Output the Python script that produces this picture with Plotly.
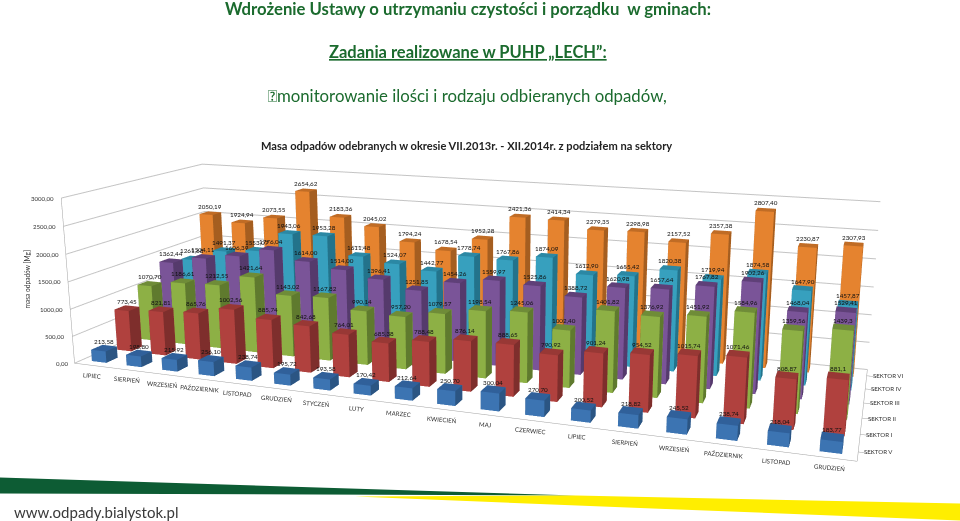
import plotly.graph_objects as go

months = ["LIPIEC", "SIERPIEŃ", "WRZESIEŃ", "PAŹDZIERNIK", "LISTOPAD", "GRUDZIEŃ", "STYCZEŃ", "LUTY", "MARZEC",
          "KWIECIEŃ", "MAJ", "CZERWIEC", "LIPIEC", "SIERPIEŃ", "WRZESIEŃ", "PAŹDZIERNIK", "LISTOPAD", "GRUDZIEŃ"]
sectors = ["SEKTOR V", "SEKTOR I", "SEKTOR II", "SEKTOR III", "SEKTOR IV", "SEKTOR VI"]
z_ticks = [0, 500, 1000, 1500, 2000, 2500, 3000]
sektor_v = [213.58, 198.80, 215.92, 256.10, 238.74, 195.72, 193.58, 170.42, 212.64, 250.70, 300.04, 270.70, 200.52, 218.82, 245.52, 238.74, 218.04, 183.77]
sektor_i = [773.45, 821.81, 865.76, 1002.56, 885.74, 842.68, 764.01, 685.38, 788.48, 876.14, 888.65, 790.92, 901.24, 954.52, 1015.74, 1071.46, 808.87, 881.1]
sektor_ii = [1070.70, 1186.61, 1212.55, 1421.64, 1143.02, 1167.82, 990.14, 957.20, 1079.57, 1198.54, 1245.06, 1002.40, 1401.82, 1376.92, 1451.92, 1584.96, 1359.56, 1439.3]
sektor_iii = [1362.44, 1504.11, 1606.39, 1776.04, 1614.00, 1514.00, 1396.41, 1251.85, 1454.26, 1559.97, 1525.86, 1388.72, 1620.98, 1657.64, 1767.82, 1902.26, 1468.04, 1529.41]
sektor_iv = [1261.68, 1491.37, 1553.07, 1943.06, 1953.28, 1611.48, 1524.07, 1442.77, 1778.74, 1767.86, 1874.09, 1612.90, 1655.42, 1820.38, 1719.94, 1874.58, 1647.90, 1457.87]
sektor_vi = [2050.19, 1924.94, 2073.55, 2654.62, 2183.36, 2045.02, 1794.24, 1678.54, 1952.28, 2421.36, 2414.34, 2279.35, 2298.98, 2157.52, 2357.38, 2807.40, 2230.87, 2307.93]

series = [sektor_v, sektor_i, sektor_ii, sektor_iii, sektor_iv, sektor_vi]
# front, side, top
colors = [("#3c74b2", "#2b5583", "#30609a"), ("#b0413e", "#7e2e2c", "#983835"), ("#8db045", "#5f7a2e", "#6f8c38"),
          ("#7a5498", "#553a6c", "#5f4078"), ("#37a0be", "#23738b", "#2b88a4"), ("#e5832f", "#a55e20", "#c06c25")]

# gl3d has a fixed 45 degree fov, so the long lens of the original needs a taller plot than the window
plot_h = 968
top_off = (plot_h - 521) / 2

fig = go.Figure()
hw, hd = 0.21, 0.22
for j, (vals, col) in enumerate(zip(series, colors)):
    xs, ys, zs, ii, jj, kk, fc = [], [], [], [], [], [], []
    for i, v in enumerate(vals):
        b = len(xs)
        xs += [i - hw, i + hw, i + hw, i - hw] * 2
        ys += [j - hd, j - hd, j + hd, j + hd] * 2
        zs += [0, 0, 0, 0, v, v, v, v]
        # front, right, left, back, top
        quads = [(0, 1, 5, 4, 0), (1, 2, 6, 5, 1), (3, 0, 4, 7, 1), (2, 3, 7, 6, 0), (4, 5, 6, 7, 2)]
        for q0, q1, q2, q3, shade in quads:
            ii += [b + q0, b + q0]
            jj += [b + q1, b + q2]
            kk += [b + q2, b + q3]
            fc += [col[shade], col[shade]]
    fig.add_trace(go.Mesh3d(x=xs, y=ys, z=zs, i=ii, j=jj, k=kk, facecolor=fc, flatshading=True, name=sectors[j],
                            hoverinfo="skip", lighting=dict(ambient=1, diffuse=0, specular=0, fresnel=0, roughness=1)))

label_font = dict(family="Lato", size=6.3, color="#111111")
axis_font = dict(family="Lato", size=6.1, color="#333333")
labels = []
for j, vals in enumerate(series):
    for i, v in enumerate(vals):
        txt = "881,1" if v == 881.1 else "1439,3" if v == 1439.3 else f"{v:.2f}".replace(".", ",")
        labels.append(dict(x=i, y=j, z=v, text=txt, showarrow=False, yshift=7, font=label_font))
for i, m in enumerate(months):
    labels.append(dict(x=i, y=-0.5, z=0, text=m, showarrow=False, yshift=-10, textangle=5, font=axis_font))
for j, s in enumerate(sectors):
    labels.append(dict(x=17.5, y=j, z=0, text=s, showarrow=False, xanchor="left", xshift=4, font=axis_font))
for t in z_ticks:
    labels.append(dict(x=-0.5, y=-0.5, z=t, text=f"{t:.2f}".replace(".", ","), showarrow=False, xanchor="right", xshift=-5,
                       font=axis_font))

fig.update_layout(
    width=960, height=plot_h, margin=dict(l=0, r=0, t=0, b=0), showlegend=False, paper_bgcolor="white",
    scene=dict(
        domain=dict(x=[0, 1], y=[0, 1]),
        aspectmode="manual", aspectratio=dict(x=2, y=0.6583, z=0.4479),
        camera=dict(eye=dict(x=1.0292, y=-2.7772, z=0.7388), center=dict(x=0.035, y=0, z=0.0655), up=dict(x=0, y=0, z=1),
                    projection=dict(type="perspective")),
        xaxis=dict(range=[-0.5, 17.5], tickvals=list(range(18)), showticklabels=False, showgrid=False, showbackground=False,
                   zeroline=False, showline=True, linecolor="#a0a0a0", title="", ticks=""),
        yaxis=dict(range=[-0.5, 5.5], tickvals=list(range(6)), showticklabels=False, showgrid=False, showbackground=False,
                   zeroline=False, showline=True, linecolor="#a0a0a0", title="", ticks="outside", ticklen=3, tickcolor="#a0a0a0"),
        zaxis=dict(range=[0, 3000], tickvals=z_ticks, showticklabels=False, gridcolor="#c4c4c4",
                   showbackground=False, zeroline=False, showline=True, linecolor="#a0a0a0", title="", ticks=""),
        annotations=labels,
    ),
)

green = "#1b6b2e"


def yy(py):
    return 1 - (py + top_off) / plot_h


def page_text(x, y, text, size, color=green, angle=0):
    fig.add_annotation(xref="paper", yref="paper", x=x / 960, y=yy(y), text=text, showarrow=False, textangle=angle,
                       xanchor="center", yanchor="middle", font=dict(family="Lato", size=size, color=color))


page_text(468, 8, "<b>Wdrożenie Ustawy o utrzymaniu czystości i porządku  w gminach:</b>", 16.7)
page_text(468, 52, "<b><u>Zadania realizowane w PUHP „LECH”:</u></b>", 16.5)
page_text(467.5, 95, "\uf0a7monitorowanie ilości i rodzaju odbieranych odpadów,", 16.8)
page_text(466.5, 145, "<b>Masa odpadów odebranych w okresie VII.2013r. - XII.2014r. z podziałem na sektory</b>", 11.1, color="#222222")
page_text(26, 279, "masa odpadów [Mg]", 6.6, color="#333333", angle=-90)
page_text(96.5, 511, "www.odpady.bialystok.pl", 15, color="#3a3a3a")

fig.add_shape(type="path", xref="paper", yref="paper", line_width=0, fillcolor="#0d5c34",
              path=f"M 0 {yy(477)} L 0.2 {yy(483)} L 0.6 {yy(495)} L 0.33 {yy(494)} L 0 {yy(493)} Z")
fig.add_shape(type="path", xref="paper", yref="paper", line_width=0, fillcolor="#ffee00",
              path=f"M 0.37 {yy(496)} L 0.6 {yy(495)} L 1 {yy(503)} L 1 {yy(520)} L 0.68 {yy(508)} Z")

# pull the plot up so its middle sits at the middle of the window
fig.write_html("out.html", post_script=f"document.documentElement.style.overflow='hidden';"
                                       f"document.body.style.margin='-{top_off}px 0 0 0';")
